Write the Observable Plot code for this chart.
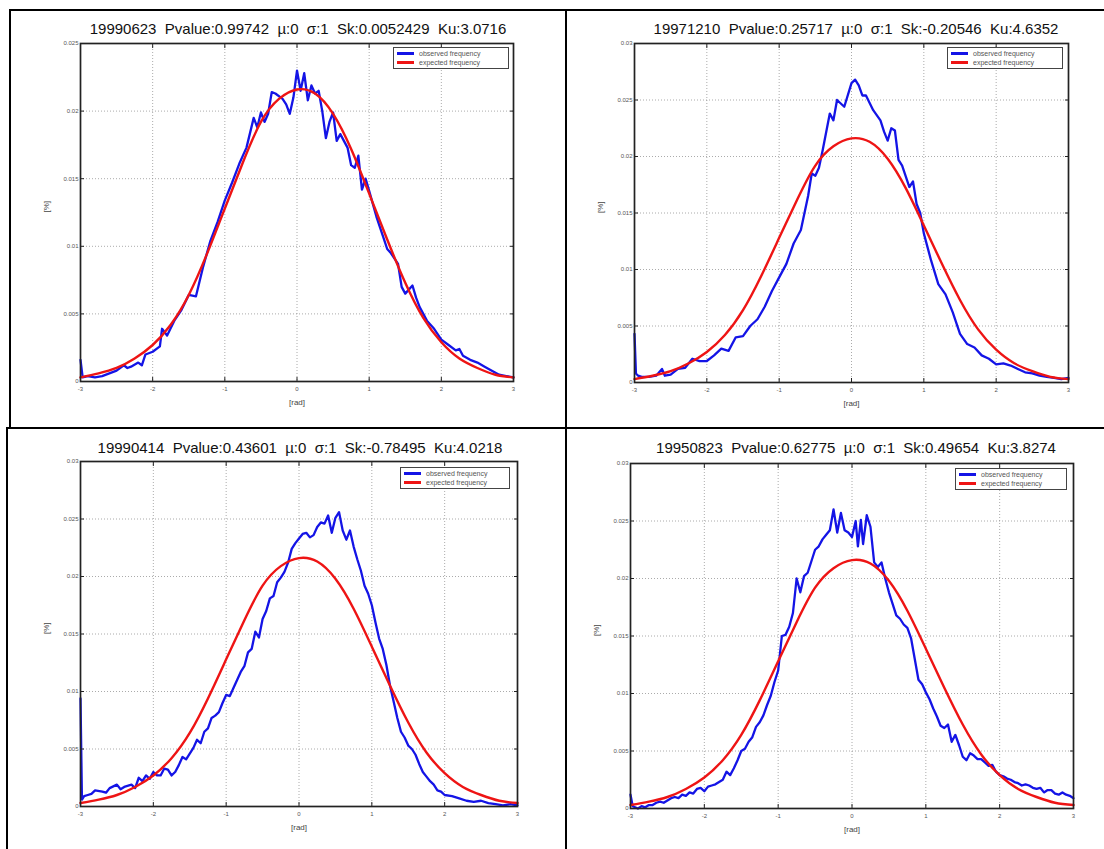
<!DOCTYPE html>
<html>
<head>
<meta charset="utf-8">
<script src="https://cdn.jsdelivr.net/npm/d3@7"></script>
<script src="https://cdn.jsdelivr.net/npm/@observablehq/plot@0.6"></script>
<style>
  body { margin: 0; background: #fff; font-family: "Liberation Sans", Arial, sans-serif; }
  #page { position: relative; width: 1104px; height: 849px; overflow: hidden; background: #fff; }
  .rule { position: absolute; background: #000; }
  .panel { position: absolute; }
  .title { position: absolute; white-space: pre; font-size: 15px; line-height: 18px; color: #111; transform: translateX(-50%); }
  .legend { position: absolute; border: 1px solid #444; background: #fff; font-size: 7px; color: #555; padding: 1px 3px; line-height: 9px; }
  .legend .row { display: flex; align-items: center; white-space: nowrap; }
  .legend .sw { display: inline-block; width: 17px; height: 3px; margin-right: 5px; }
</style>
</head>
<body>
<div id="page"></div>
<script>
// ---------- data ----------
const titles = [
  "19990623  Pvalue:0.99742  \u00b5:0  \u03c3:1  Sk:0.0052429  Ku:3.0716",
  "19971210  Pvalue:0.25717  \u00b5:0  \u03c3:1  Sk:-0.20546  Ku:4.6352",
  "19990414  Pvalue:0.43601  \u00b5:0  \u03c3:1  Sk:-0.78495  Ku:4.0218",
  "19950823  Pvalue:0.62775  \u00b5:0  \u03c3:1  Sk:0.49654  Ku:3.8274"
];
const seriesNames = ["observed frequency", "expected frequency"];
const xLabel = "[rad]";
const yLabel = "[%]";
const xTicks = [-3, -2, -1, 0, 1, 2, 3];
const yTicks25 = [0, 0.005, 0.01, 0.015, 0.02, 0.025];
const yTicks30 = [0, 0.005, 0.01, 0.015, 0.02, 0.025, 0.03];
const yMax = [0.025, 0.03, 0.03, 0.03];

// expected frequency (same curve in every panel)
const expected = [
  [-3, 0.0003], [-2.75, 0.0006], [-2.5, 0.0010], [-2.25, 0.0017], [-2, 0.0027],
  [-1.75, 0.0042], [-1.5, 0.0064], [-1.25, 0.0094], [-1, 0.0128], [-0.75, 0.0162],
  [-0.5, 0.0192], [-0.25, 0.0209], [0, 0.0216], [0.25, 0.0213], [0.5, 0.0198],
  [0.75, 0.0172], [1, 0.0139], [1.25, 0.0105], [1.5, 0.0073], [1.75, 0.0047],
  [2, 0.0029], [2.25, 0.0017], [2.5, 0.0010], [2.75, 0.0005], [3, 0.0003]
];

// observed frequency, panel 1 (19990623)
const observed1 = [
  [-3, 0.0016], [-2.97, 0.0003], [-2.9, 0.0004], [-2.8, 0.0003], [-2.7, 0.0004], [-2.6, 0.0006],
  [-2.5, 0.0008], [-2.4, 0.0012], [-2.35, 0.0010], [-2.3, 0.0011], [-2.2, 0.0014], [-2.15, 0.0012],
  [-2.1, 0.0020], [-2.0, 0.0022], [-1.9, 0.0026], [-1.87, 0.0039], [-1.8, 0.0034], [-1.7, 0.0045],
  [-1.6, 0.0053], [-1.5, 0.0064], [-1.4, 0.0063], [-1.3, 0.0085], [-1.2, 0.0104], [-1.1, 0.0118],
  [-1.0, 0.0134], [-0.9, 0.0147], [-0.8, 0.0161], [-0.7, 0.0173], [-0.6, 0.0195], [-0.55, 0.0188],
  [-0.5, 0.0199], [-0.45, 0.0192], [-0.4, 0.0198], [-0.35, 0.0214], [-0.3, 0.0213], [-0.2, 0.0209],
  [-0.15, 0.0205], [-0.1, 0.0198], [-0.05, 0.0210], [0.0, 0.0230], [0.05, 0.0215], [0.1, 0.0228],
  [0.15, 0.0208], [0.2, 0.0219], [0.25, 0.0213], [0.3, 0.0215], [0.35, 0.0200], [0.4, 0.0180],
  [0.45, 0.0192], [0.5, 0.0199], [0.55, 0.0178], [0.6, 0.0183], [0.7, 0.0173], [0.75, 0.0160],
  [0.8, 0.0158], [0.85, 0.0167], [0.9, 0.0142], [0.95, 0.0150], [1.0, 0.0141], [1.1, 0.0122],
  [1.2, 0.0106], [1.25, 0.0098], [1.3, 0.0095], [1.4, 0.0087], [1.45, 0.0070], [1.5, 0.0065],
  [1.6, 0.0071], [1.65, 0.0062], [1.7, 0.0055], [1.8, 0.0045], [1.9, 0.0039], [2.0, 0.0031],
  [2.1, 0.0027], [2.2, 0.0023], [2.25, 0.0024], [2.3, 0.0019], [2.4, 0.0016], [2.5, 0.0014],
  [2.6, 0.0011], [2.7, 0.0008], [2.8, 0.0005], [2.9, 0.0004], [3.0, 0.0003]
];

// observed frequency, panel 2 (19971210)
const observed2 = [
  [-3, 0.0043], [-2.98, 0.0008], [-2.95, 0.0006], [-2.9, 0.0005], [-2.8, 0.0005], [-2.7, 0.0006],
  [-2.62, 0.0012], [-2.58, 0.0006], [-2.5, 0.0007], [-2.4, 0.0012], [-2.3, 0.0013], [-2.2, 0.0021],
  [-2.1, 0.0019], [-2.0, 0.0019], [-1.9, 0.0024], [-1.8, 0.0030], [-1.7, 0.0028], [-1.6, 0.0040],
  [-1.5, 0.0041], [-1.4, 0.0050], [-1.3, 0.0056], [-1.2, 0.0067], [-1.1, 0.0081], [-1.0, 0.0093],
  [-0.9, 0.0105], [-0.8, 0.0123], [-0.7, 0.0135], [-0.6, 0.0165], [-0.55, 0.0185], [-0.5, 0.0183],
  [-0.45, 0.0190], [-0.4, 0.0205], [-0.3, 0.0238], [-0.25, 0.0232], [-0.2, 0.0250], [-0.1, 0.0244],
  [0.0, 0.0265], [0.05, 0.0268], [0.1, 0.0263], [0.15, 0.0254], [0.2, 0.0254], [0.3, 0.0241],
  [0.4, 0.0232], [0.45, 0.0222], [0.5, 0.0214], [0.55, 0.0225], [0.6, 0.0223], [0.65, 0.0197],
  [0.7, 0.0192], [0.8, 0.0173], [0.85, 0.0178], [0.9, 0.0158], [0.95, 0.0150], [1.0, 0.0132],
  [1.1, 0.0108], [1.2, 0.0087], [1.3, 0.0078], [1.4, 0.0062], [1.5, 0.0043], [1.6, 0.0034],
  [1.7, 0.0031], [1.8, 0.0024], [1.9, 0.0021], [2.0, 0.0016], [2.1, 0.0017], [2.2, 0.0015],
  [2.3, 0.0012], [2.4, 0.0009], [2.5, 0.0008], [2.6, 0.0006], [2.7, 0.0005], [2.8, 0.0004],
  [2.9, 0.0003], [3.0, 0.0004]
];

// observed frequency, panel 3 (19990414)
const observed3 = [
  [-3, 0.0094], [-2.98, 0.0006], [-2.95, 0.0009], [-2.9, 0.0010], [-2.85, 0.0011], [-2.8, 0.0014],
  [-2.7, 0.0013], [-2.65, 0.0012], [-2.6, 0.0016], [-2.5, 0.0019], [-2.45, 0.0015], [-2.4, 0.0017],
  [-2.3, 0.0019], [-2.25, 0.0016], [-2.2, 0.0025], [-2.15, 0.0022], [-2.1, 0.0027], [-2.05, 0.0024],
  [-2.0, 0.0030], [-1.95, 0.0027], [-1.9, 0.0027], [-1.85, 0.0033], [-1.8, 0.0032], [-1.75, 0.0027],
  [-1.7, 0.0030], [-1.65, 0.0036], [-1.6, 0.0043], [-1.55, 0.0041], [-1.5, 0.0046], [-1.45, 0.0051],
  [-1.4, 0.0058], [-1.35, 0.0055], [-1.3, 0.0065], [-1.25, 0.0068], [-1.2, 0.0077], [-1.15, 0.0079],
  [-1.1, 0.0082], [-1.05, 0.0090], [-1.0, 0.0097], [-0.95, 0.0096], [-0.9, 0.0103], [-0.85, 0.0110],
  [-0.8, 0.0117], [-0.75, 0.0122], [-0.7, 0.0134], [-0.65, 0.0137], [-0.6, 0.0152], [-0.55, 0.0147],
  [-0.5, 0.0163], [-0.45, 0.0170], [-0.4, 0.0181], [-0.35, 0.0183], [-0.3, 0.0195], [-0.25, 0.0199],
  [-0.2, 0.0204], [-0.15, 0.0212], [-0.1, 0.0224], [-0.05, 0.0229], [0, 0.0233], [0.05, 0.0237],
  [0.1, 0.0238], [0.15, 0.0234], [0.2, 0.0236], [0.25, 0.0243], [0.3, 0.0247], [0.35, 0.0246],
  [0.4, 0.0253], [0.45, 0.0238], [0.5, 0.0251], [0.55, 0.0256], [0.6, 0.0240], [0.65, 0.0232],
  [0.7, 0.0240], [0.75, 0.0226], [0.8, 0.0215], [0.85, 0.0205], [0.9, 0.0192], [0.95, 0.0185],
  [1.0, 0.0175], [1.05, 0.0160], [1.1, 0.0146], [1.15, 0.0137], [1.2, 0.0123], [1.25, 0.0105],
  [1.3, 0.0091], [1.35, 0.0077], [1.4, 0.0065], [1.45, 0.0060], [1.5, 0.0053], [1.55, 0.0050],
  [1.6, 0.0045], [1.65, 0.0037], [1.7, 0.0030], [1.75, 0.0026], [1.8, 0.0022], [1.85, 0.0019],
  [1.9, 0.0014], [1.95, 0.0013], [2.0, 0.0010], [2.1, 0.0009], [2.2, 0.0007], [2.3, 0.0005],
  [2.4, 0.0004], [2.5, 0.0005], [2.6, 0.0003], [2.7, 0.0002], [2.8, 0.0001], [2.9, 0.0002], [3.0, 0.0001]
];

// observed frequency, panel 4 (19950823)
const observed4 = [
  [-3, 0.0012], [-2.97, 0.0002], [-2.9, 0.0000], [-2.85, 0.0002], [-2.8, 0.0001], [-2.75, 0.0003],
  [-2.7, 0.0003], [-2.65, 0.0005], [-2.6, 0.0006], [-2.55, 0.0005], [-2.5, 0.0007], [-2.45, 0.0009],
  [-2.4, 0.0010], [-2.35, 0.0009], [-2.3, 0.0012], [-2.25, 0.0011], [-2.2, 0.0014], [-2.15, 0.0013],
  [-2.1, 0.0017], [-2.05, 0.0018], [-2.0, 0.0015], [-1.95, 0.0019], [-1.9, 0.0020], [-1.85, 0.0021],
  [-1.8, 0.0023], [-1.75, 0.0025], [-1.7, 0.0032], [-1.65, 0.0029], [-1.6, 0.0035], [-1.55, 0.0042],
  [-1.5, 0.0050], [-1.45, 0.0052], [-1.4, 0.0058], [-1.35, 0.0062], [-1.3, 0.0071], [-1.25, 0.0075],
  [-1.2, 0.0081], [-1.15, 0.0090], [-1.1, 0.0098], [-1.05, 0.0110], [-1.0, 0.0120], [-0.95, 0.0150],
  [-0.9, 0.0151], [-0.85, 0.0158], [-0.8, 0.0170], [-0.75, 0.0200], [-0.7, 0.0188], [-0.65, 0.0202],
  [-0.6, 0.0205], [-0.55, 0.0215], [-0.5, 0.0225], [-0.45, 0.0228], [-0.4, 0.0234], [-0.35, 0.0238],
  [-0.3, 0.0242], [-0.25, 0.0260], [-0.2, 0.0240], [-0.15, 0.0257], [-0.1, 0.0242], [-0.05, 0.0240],
  [0, 0.0236], [0.05, 0.0250], [0.08, 0.0228], [0.12, 0.0251], [0.15, 0.0230], [0.2, 0.0255],
  [0.25, 0.0245], [0.3, 0.0214], [0.35, 0.0210], [0.4, 0.0214], [0.45, 0.0200], [0.5, 0.0188],
  [0.55, 0.0178], [0.6, 0.0168], [0.65, 0.0165], [0.7, 0.0160], [0.75, 0.0157], [0.8, 0.0148],
  [0.85, 0.0130], [0.9, 0.0112], [0.95, 0.0108], [1.0, 0.0101], [1.05, 0.0095], [1.1, 0.0087],
  [1.15, 0.0080], [1.2, 0.0072], [1.25, 0.0070], [1.3, 0.0073], [1.35, 0.0058], [1.4, 0.0064],
  [1.45, 0.0055], [1.5, 0.0045], [1.55, 0.0042], [1.6, 0.0048], [1.65, 0.0046], [1.7, 0.0043],
  [1.75, 0.0043], [1.8, 0.0040], [1.85, 0.0037], [1.9, 0.0038], [1.95, 0.0032], [2.0, 0.0029],
  [2.05, 0.0028], [2.1, 0.0026], [2.15, 0.0025], [2.2, 0.0023], [2.25, 0.0022], [2.3, 0.0020],
  [2.35, 0.0021], [2.4, 0.0020], [2.45, 0.0018], [2.5, 0.0017], [2.55, 0.0018], [2.6, 0.0014],
  [2.65, 0.0016], [2.7, 0.0016], [2.75, 0.0013], [2.8, 0.0012], [2.85, 0.0014], [2.9, 0.0012],
  [2.95, 0.0011], [3.0, 0.0009]
];

const observedAll = [observed1, observed2, observed3, observed4];
const yTicksAll = [yTicks25, yTicks30, yTicks30, yTicks30];

// ---------- layout (positions only) ----------
const layout = [
  {left: 12,  top: 35,  width: 550, height: 390, ml: 68, mr: 49, mt: 8,  mb: 44, titleX: 298, titleY: 20,  legR: 4, legT: 4, legW: 108},
  {left: 568, top: 35,  width: 534, height: 390, ml: 66, mr: 34, mt: 8,  mb: 43, titleX: 856, titleY: 20,  legR: 5, legT: 4, legW: 108},
  {left: 10,  top: 452, width: 554, height: 395, ml: 70, mr: 47, mt: 9,  mb: 41, titleX: 300, titleY: 439, legR: 7, legT: 6, legW: 102},
  {left: 568, top: 452, width: 534, height: 395, ml: 62, mr: 29, mt: 11, mb: 39, titleX: 856, titleY: 439, legR: 6, legT: 5, legW: 104}
];
const BLUE = "#1414e6";
const RED = "#ee1414";

const page = document.getElementById("page");

// frame rules around the four figures
const rules = [
  {l: 9, t: 9, w: 1095, h: 2},
  {l: 9, t: 9, w: 2, h: 419},
  {l: 6, t: 427, w: 1098, h: 2},
  {l: 6, t: 427, w: 2, h: 422},
  {l: 565, t: 9, w: 2, h: 840}
];
for (const r of rules) {
  const d = document.createElement("div");
  d.className = "rule";
  Object.assign(d.style, {left: r.l + "px", top: r.t + "px", width: r.w + "px", height: r.h + "px"});
  page.appendChild(d);
}

layout.forEach((g, i) => {
  const obs = observedAll[i].map(([x, y]) => ({x, y}));
  const exp = expected.map(([x, y]) => ({x, y}));
  const yT = yTicksAll[i];
  const chart = Plot.plot({
    width: g.width,
    height: g.height,
    marginLeft: g.ml,
    marginRight: g.mr,
    marginTop: g.mt,
    marginBottom: g.mb,
    style: {background: "transparent", fontFamily: "Liberation Sans, Arial, sans-serif", fontSize: "6px", color: "#555"},
    x: {domain: [-3, 3]},
    y: {domain: [0, yMax[i]]},
    marks: [
      Plot.gridX(xTicks, {stroke: "#888", strokeOpacity: 0.7, strokeDasharray: "1,2"}),
      Plot.gridY(yT, {stroke: "#888", strokeOpacity: 0.7, strokeDasharray: "1,2"}),
      Plot.line(obs, {x: "x", y: "y", stroke: BLUE, strokeWidth: 2.3}),
      Plot.line(exp, {x: "x", y: "y", stroke: RED, strokeWidth: 2.4, curve: "natural"}),
      Plot.frame({stroke: "#222", strokeWidth: 1.7}),
      Plot.axisX(xTicks, {anchor: "bottom", tickSize: -4, tickPadding: 9, tickFormat: d => String(d), label: null, stroke: "#222"}),
      Plot.axisX(xTicks, {anchor: "top", tickSize: -4, tickFormat: () => "", label: null, stroke: "#222"}),
      Plot.axisY(yT, {anchor: "left", tickSize: -4, tickPadding: 6, tickFormat: d => String(d), label: null, stroke: "#222"}),
      Plot.axisY(yT, {anchor: "right", tickSize: -4, tickFormat: () => "", label: null, stroke: "#222"}),
      Plot.text([xLabel], {text: d => d, frameAnchor: "bottom", dy: 23, fontSize: 8, fill: "#444"}),
      Plot.text([yLabel], {text: d => d, frameAnchor: "left", dx: -34, rotate: -90, fontSize: 8, fill: "#444"})
    ]
  });
  const wrap = document.createElement("div");
  wrap.className = "panel";
  wrap.style.left = g.left + "px";
  wrap.style.top = g.top + "px";
  wrap.style.width = g.width + "px";
  wrap.style.height = g.height + "px";
  wrap.appendChild(chart);

  // legend inside the axes, top-right
  const leg = document.createElement("div");
  leg.className = "legend";
  leg.style.right = (g.mr + g.legR) + "px";
  leg.style.top = (g.mt + g.legT) + "px";
  leg.style.width = g.legW + "px";
  [[seriesNames[0], BLUE], [seriesNames[1], RED]].forEach(([name, c]) => {
    const row = document.createElement("div");
    row.className = "row";
    const sw = document.createElement("span");
    sw.className = "sw";
    sw.style.background = c;
    row.appendChild(sw);
    row.appendChild(document.createTextNode(name));
    leg.appendChild(row);
  });
  wrap.appendChild(leg);
  page.appendChild(wrap);

  const t = document.createElement("div");
  t.className = "title";
  t.style.left = g.titleX + "px";
  t.style.top = g.titleY + "px";
  t.textContent = titles[i];
  page.appendChild(t);
});
</script>
</body>
</html>
